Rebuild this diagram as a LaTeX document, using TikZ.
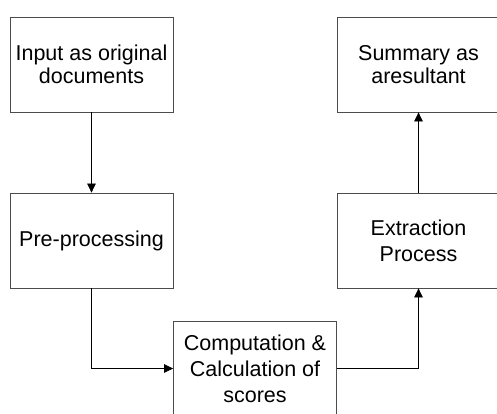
\documentclass[tikz,border=0pt]{standalone}
\usepackage{fontspec}
\setmainfont{Liberation Sans}
\usetikzlibrary{arrows.meta}
\begin{document}
\begin{tikzpicture}[x=1pt,y=-1pt,every node/.style={black},
	blok/.style={draw=black!70,line width=0.8pt,minimum width=163pt,minimum height=95pt,
		inner sep=0pt,align=center,font=\fontsize{21.5}{26}\selectfont},
	blokhi/.style={blok,font=\fontsize{21.5}{23}\selectfont},
	pijl/.style={-{Triangle[length=9pt,width=8.5pt]},line width=0.7pt}]
%	page is 497 x 413, y runs down
	\clip (0,0) rectangle (497,413);
	\coordinate (cinp)  at (91.5,64.5);
	\coordinate (cpre)  at (91.5,240.5);
	\coordinate (ccomp) at (255,368.5);
	\coordinate (cextr) at (418.5,240.5);
	\coordinate (csumm) at (418.5,64.5);

	\node[blokhi] (inp)  at (cinp)  {Input as original\\documents};
	\node[blok]   (pre)  at (cpre)  {Pre-processing};
	\node[blok]   (comp) at (ccomp) {Computation \&\\Calculation of\\scores};
	\node[blok]   (extr) at (cextr) {Extraction\\Process};
	\node[blokhi] (summ) at (csumm) {Summary as\\aresultant};

	\draw[pijl] (inp) -- (pre);
	\draw[pijl] (pre.south) |- (comp.west);
	\draw[pijl] (comp.east) -| (extr.south);
	\draw[pijl] (extr) -- (summ);
\end{tikzpicture}
\end{document}
